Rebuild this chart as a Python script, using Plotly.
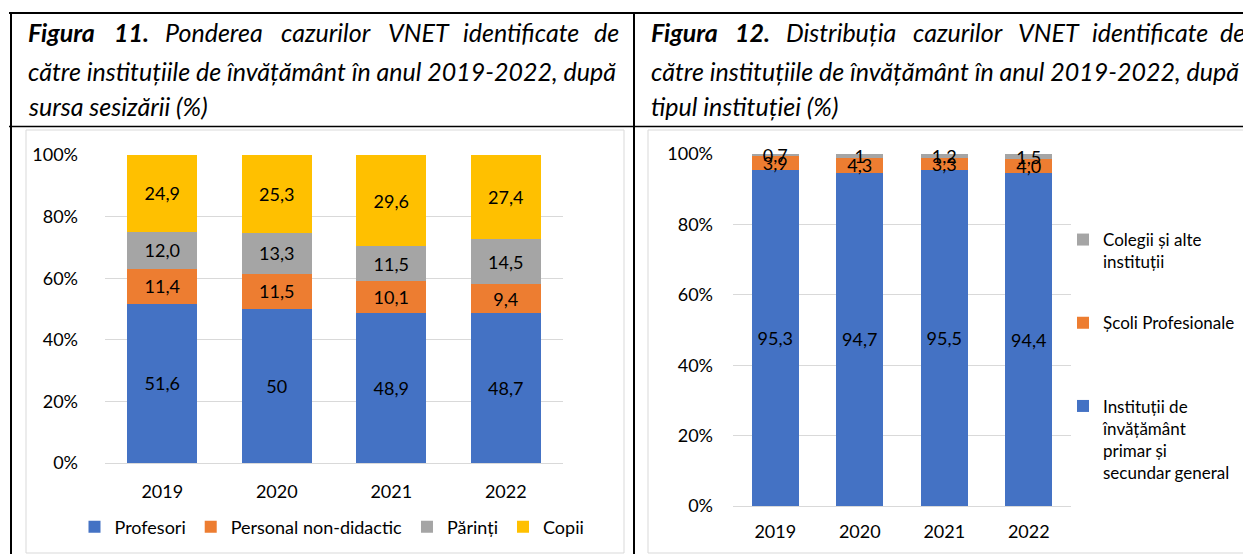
import plotly.graph_objects as go

# ---------------- data ----------------
years = ["2019", "2020", "2021", "2022"]

# Figura 11 (values as printed in the chart)
profesori = ["51,6", "50", "48,9", "48,7"]
personal_non_didactic = ["11,4", "11,5", "10,1", "9,4"]
parinti = ["12,0", "13,3", "11,5", "14,5"]
copii = ["24,9", "25,3", "29,6", "27,4"]

# Figura 12
institutii_primar_secundar = ["95,3", "94,7", "95,5", "94,4"]
scoli_profesionale = ["3,9", "4,3", "3,3", "4,0"]
colegii = ["0,7", "1", "1,2", "1,5"]

y_ticks = [0, 20, 40, 60, 80, 100]
y_tick_labels = ["0%", "20%", "40%", "60%", "80%", "100%"]


def num(lst):
    return [float(s.replace(",", ".")) for s in lst]


# the page body has an 8px margin: figure occupies page pixels 8..1251 / 8..554
OFF = 8
W, H = 1251 - OFF, 554 - OFF


def X(px):
    return (px - OFF) / W


def Y(py):
    return 1 - (py - OFF) / H


FONT = "Lato"
BLUE, ORANGE, GREY, YELLOW = "#4472C4", "#ED7D31", "#A5A5A5", "#FFC000"

fig = go.Figure()

series11 = [
    ("Profesori", profesori, BLUE),
    ("Personal non-didactic", personal_non_didactic, ORANGE),
    ("Părinți", parinti, GREY),
    ("Copii", copii, YELLOW),
]
for name, vals, col in series11:
    fig.add_trace(go.Bar(
        x=years, y=num(vals), text=vals, name=name,
        marker=dict(color=col, line=dict(width=0)),
        width=0.61, textposition="inside", insidetextanchor="middle",
        textangle=0, textfont=dict(family=FONT, size=18, color="black"),
        cliponaxis=False, xaxis="x", yaxis="y", legend="legend",
        hoverinfo="skip",
    ))

series12 = [
    ("Instituții de<br>învățământ<br>primar și<br>secundar general", institutii_primar_secundar, BLUE, 3),
    ("Școli Profesionale<br>\u00a0", scoli_profesionale, ORANGE, 2),
    ("Colegii și alte<br>instituții", colegii, GREY, 1),
]
for i, (name, vals, col, rank) in enumerate(series12):
    fig.add_trace(go.Bar(
        x=years, y=num(vals), text=vals, name=name,
        marker=dict(color=col, line=dict(width=0)),
        width=0.556, textposition="inside", insidetextanchor="middle",
        textangle=0, textfont=dict(family=FONT, size=18, color="black"),
        cliponaxis=False, xaxis="x2", yaxis="y2", legend="legend2",
        legendgroup="g%d" % i, legendrank=rank, hoverinfo="skip",
    ))

axis_common = dict(showgrid=False, showline=False, zeroline=False,
                   tickfont=dict(family=FONT, size=18, color="black"), ticks="")
yaxis_common = dict(range=[0, 100], tickmode="array", tickvals=y_ticks, ticktext=y_tick_labels,
                    showgrid=True, gridcolor="#D9D9D9", gridwidth=1,
                    zeroline=True, zerolinecolor="#D9D9D9", zerolinewidth=1,
                    showline=False, ticks="",
                    tickfont=dict(family=FONT, size=18, color="black"))

shapes = [
    # chart boxes (light grey)
    dict(type="rect", xref="paper", yref="paper", x0=X(26), x1=X(624), y0=Y(553), y1=Y(130),
         line=dict(color="#D9D9D9", width=1), layer="below"),
    dict(type="rect", xref="paper", yref="paper", x0=X(648), x1=X(1262), y0=Y(553), y1=Y(130),
         line=dict(color="#D9D9D9", width=1), layer="below"),
    # table borders (black)
    dict(type="line", xref="paper", yref="paper", x0=X(9), x1=X(1260), y0=Y(13), y1=Y(13),
         line=dict(color="black", width=2)),
    dict(type="line", xref="paper", yref="paper", x0=X(9), x1=X(1260), y0=Y(126.5), y1=Y(126.5),
         line=dict(color="black", width=1.5)),
    dict(type="line", xref="paper", yref="paper", x0=X(11), x1=X(11), y0=Y(13), y1=Y(560),
         line=dict(color="black", width=2)),
    dict(type="line", xref="paper", yref="paper", x0=X(634), x1=X(634), y0=Y(13), y1=Y(560),
         line=dict(color="black", width=2)),
]

TSIZE = 25
annotations = []


def word(text, x, y, anchor="center", bold=False):
    t = "<b>%s</b>" % text if bold else text
    annotations.append(dict(
        text=t, x=X(x), y=Y(y), xref="paper", yref="paper",
        xanchor=anchor, yanchor="middle", showarrow=False, borderpad=0,
        font=dict(family=FONT, size=TSIZE, color="black", style="italic"),
    ))


# Figura 11 title (first line justified word by word)
word("Figura", 27, 32, "left", True)
word("11.", 131, 32, "center", True)
word("Ponderea", 214, 32)
word("cazurilor", 326, 32)
word("VNET", 419, 32)
word("identificate", 521, 32)
word("de", 620, 32, "right")
word("către instituțiile de învățământ în anul 2019-2022, după", 27, 71, "left")
word("sursa sesizării (%)", 27, 106, "left")

# Figura 12 title
word("Figura", 650, 32, "left", True)
word("12.", 752, 32, "center", True)
word("Distribuția", 841, 32)
word("cazurilor", 958, 32)
word("VNET", 1049, 32)
word("identificate", 1150, 32)
word("de", 1246, 32, "right")
word("către instituțiile de învățământ în anul 2019-2022, după", 650, 71, "left")
word("tipul instituției (%)", 650, 106, "left")

fig.update_layout(
    width=W, height=H, margin=dict(l=0, r=0, t=0, b=0, autoexpand=False),
    paper_bgcolor="white", plot_bgcolor="white",
    barmode="stack", barnorm="percent",
    uniformtext=dict(mode="show", minsize=18),
    font=dict(family=FONT, size=18, color="black"),
    xaxis=dict(domain=[X(105), X(563)], anchor="y", ticklabelstandoff=16, **axis_common),
    yaxis=dict(domain=[Y(463), Y(155)], anchor="x", ticklabelstandoff=26, **yaxis_common),
    xaxis2=dict(domain=[X(733), X(1071)], anchor="y2", ticklabelstandoff=13, **axis_common),
    yaxis2=dict(domain=[Y(506), Y(154)], anchor="x2", ticklabelstandoff=19, **yaxis_common),
    legend=dict(orientation="h", x=X(332), xanchor="center", y=Y(527), yanchor="middle",
                traceorder="normal", font=dict(family=FONT, size=18, color="black"),
                bgcolor="rgba(0,0,0,0)", itemwidth=30),
    legend2=dict(orientation="v", x=X(1063), xanchor="left", y=Y(222), yanchor="top",
                 traceorder="grouped", tracegroupgap=36, valign="top",
                 font=dict(family=FONT, size=17, color="black"),
                 bgcolor="rgba(0,0,0,0)", itemwidth=30),
    shapes=shapes, annotations=annotations,
    showlegend=True,
)

fig.write_html("out.html")
